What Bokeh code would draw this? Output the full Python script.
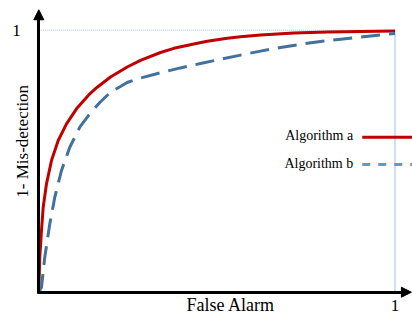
from bokeh.plotting import figure
from bokeh.embed import file_html
from bokeh.resources import INLINE
from bokeh.models import Range1d, FixedTicker, Arrow, NormalHead, Label

# ---- data ----
false_alarm_a = [0, 0.0028, 0.0076, 0.0124, 0.0216, 0.0357, 0.0545, 0.0778, 0.1058,
                 0.1432, 0.164, 0.2013, 0.2201, 0.2482, 0.2855, 0.3417, 0.379,
                 0.4351, 0.4728, 0.5289, 0.5663, 0.6224, 0.7159, 0.8097, 0.9031, 1.0]
detect_a = [0, 0.1336, 0.2355, 0.3244, 0.4137, 0.5027, 0.579, 0.6427, 0.70,
            0.7573, 0.7824, 0.8214, 0.8366, 0.8595, 0.8851, 0.9149, 0.9309,
            0.9473, 0.9576, 0.9691, 0.9752, 0.9813, 0.9889, 0.9927, 0.995, 0.997]

false_alarm_b = [0, 0.0076, 0.0168, 0.0309, 0.0449, 0.0637, 0.087, 0.1151, 0.1432,
                 0.1713, 0.2013, 0.2482, 0.2855, 0.3417, 0.3977, 0.4539, 0.51,
                 0.5663, 0.6224, 0.6786, 0.7347, 0.7909, 0.847, 0.9031, 0.9593, 1.0]
detect_b = [0, 0.0191, 0.1336, 0.2611, 0.3626, 0.4645, 0.5534, 0.6298, 0.6809,
            0.724, 0.7634, 0.8004, 0.8176, 0.8374, 0.8561, 0.8729, 0.8889,
            0.905, 0.9202, 0.934, 0.9462, 0.9569, 0.9653, 0.9737, 0.9817, 0.9874]

series_names = ["Algorithm a", "Algorithm b"]
x_ticks = [1]
y_ticks = [1]
x_title = "False Alarm"
y_title = "1- Mis-detection"

FONT = "Liberation Serif"
RED = "#C00000"
BLUE = "#41719C"
BLUE_LEGEND = "#5B9BD5"
GUIDE = "#9DC3E6"

p = figure(width=412, height=314, output_backend="svg", toolbar_location=None,
           x_range=Range1d(-0.1075, 1.0491), y_range=Range1d(-0.0851, 1.1134),
           min_border=0)
p.grid.visible = False
p.outline_line_color = None
p.background_fill_color = "white"

for ax in (p.xaxis[0], p.yaxis[0]):
    ax.fixed_location = 0
    ax.axis_line_width = 3
    ax.axis_line_color = "black"
    ax.major_tick_line_color = None
    ax.minor_tick_line_color = None
    ax.major_label_text_font = FONT
    ax.major_label_text_font_size = "17px"
    ax.major_label_text_color = "black"
p.xaxis[0].ticker = FixedTicker(ticks=x_ticks)
p.yaxis[0].ticker = FixedTicker(ticks=y_ticks)
p.xaxis[0].bounds = (-0.004, 1.03)
p.yaxis[0].bounds = (-0.006, 1.05)
p.xaxis[0].major_label_standoff = 2
p.yaxis[0].major_label_standoff = 12

# guide lines at 1
p.line([0, 1], [1, 1], line_color=GUIDE, line_width=1, line_dash="1 1")
p.line([1, 1], [0, 1], line_color=GUIDE, line_width=1)

# curves
p.line(false_alarm_a, detect_a, line_color=RED, line_width=3, line_join="round")
p.line(false_alarm_b, detect_b, line_color=BLUE, line_width=3, line_dash="19 9",
       line_join="round")

# arrow heads
p.add_layout(Arrow(x_start=0, y_start=1.03, x_end=0, y_end=1.078, line_width=0,
                   line_alpha=0,
                   end=NormalHead(size=10, fill_color="black", line_color="black")))
p.add_layout(Arrow(x_start=1.0, y_start=0, x_end=1.046, y_end=0, line_width=0,
                   line_alpha=0,
                   end=NormalHead(size=10, fill_color="black", line_color="black")))

# legend drawn as in the reference (text then sample line)
p.line([0.908, 1.06], [0.5916, 0.5916], line_color=RED, line_width=3)
p.line([0.908, 1.06], [0.4874, 0.4874], line_color=BLUE_LEGEND, line_width=3,
       line_dash="8 8")
p.add_layout(Label(x=0.8827, y=0.5992, text=series_names[0], text_align="right",
                   text_baseline="middle",
                   text_font=FONT, text_font_size="14px", text_color="black"))
p.add_layout(Label(x=0.8827, y=0.4912, text=series_names[1], text_align="right",
                   text_baseline="middle",
                   text_font=FONT, text_font_size="14px", text_color="black"))

# axis titles
p.add_layout(Label(x=0.539, y=-0.0489, text=x_title, text_align="center",
                   text_baseline="middle",
                   text_font=FONT, text_font_size="18px", text_color="black"))
p.add_layout(Label(x=-0.0444, y=0.576, text=y_title, text_align="center",
                   text_baseline="middle", angle=90, angle_units="deg",
                   text_font=FONT, text_font_size="17px", text_color="black"))

open("out.html", "w").write(file_html(p, INLINE))
